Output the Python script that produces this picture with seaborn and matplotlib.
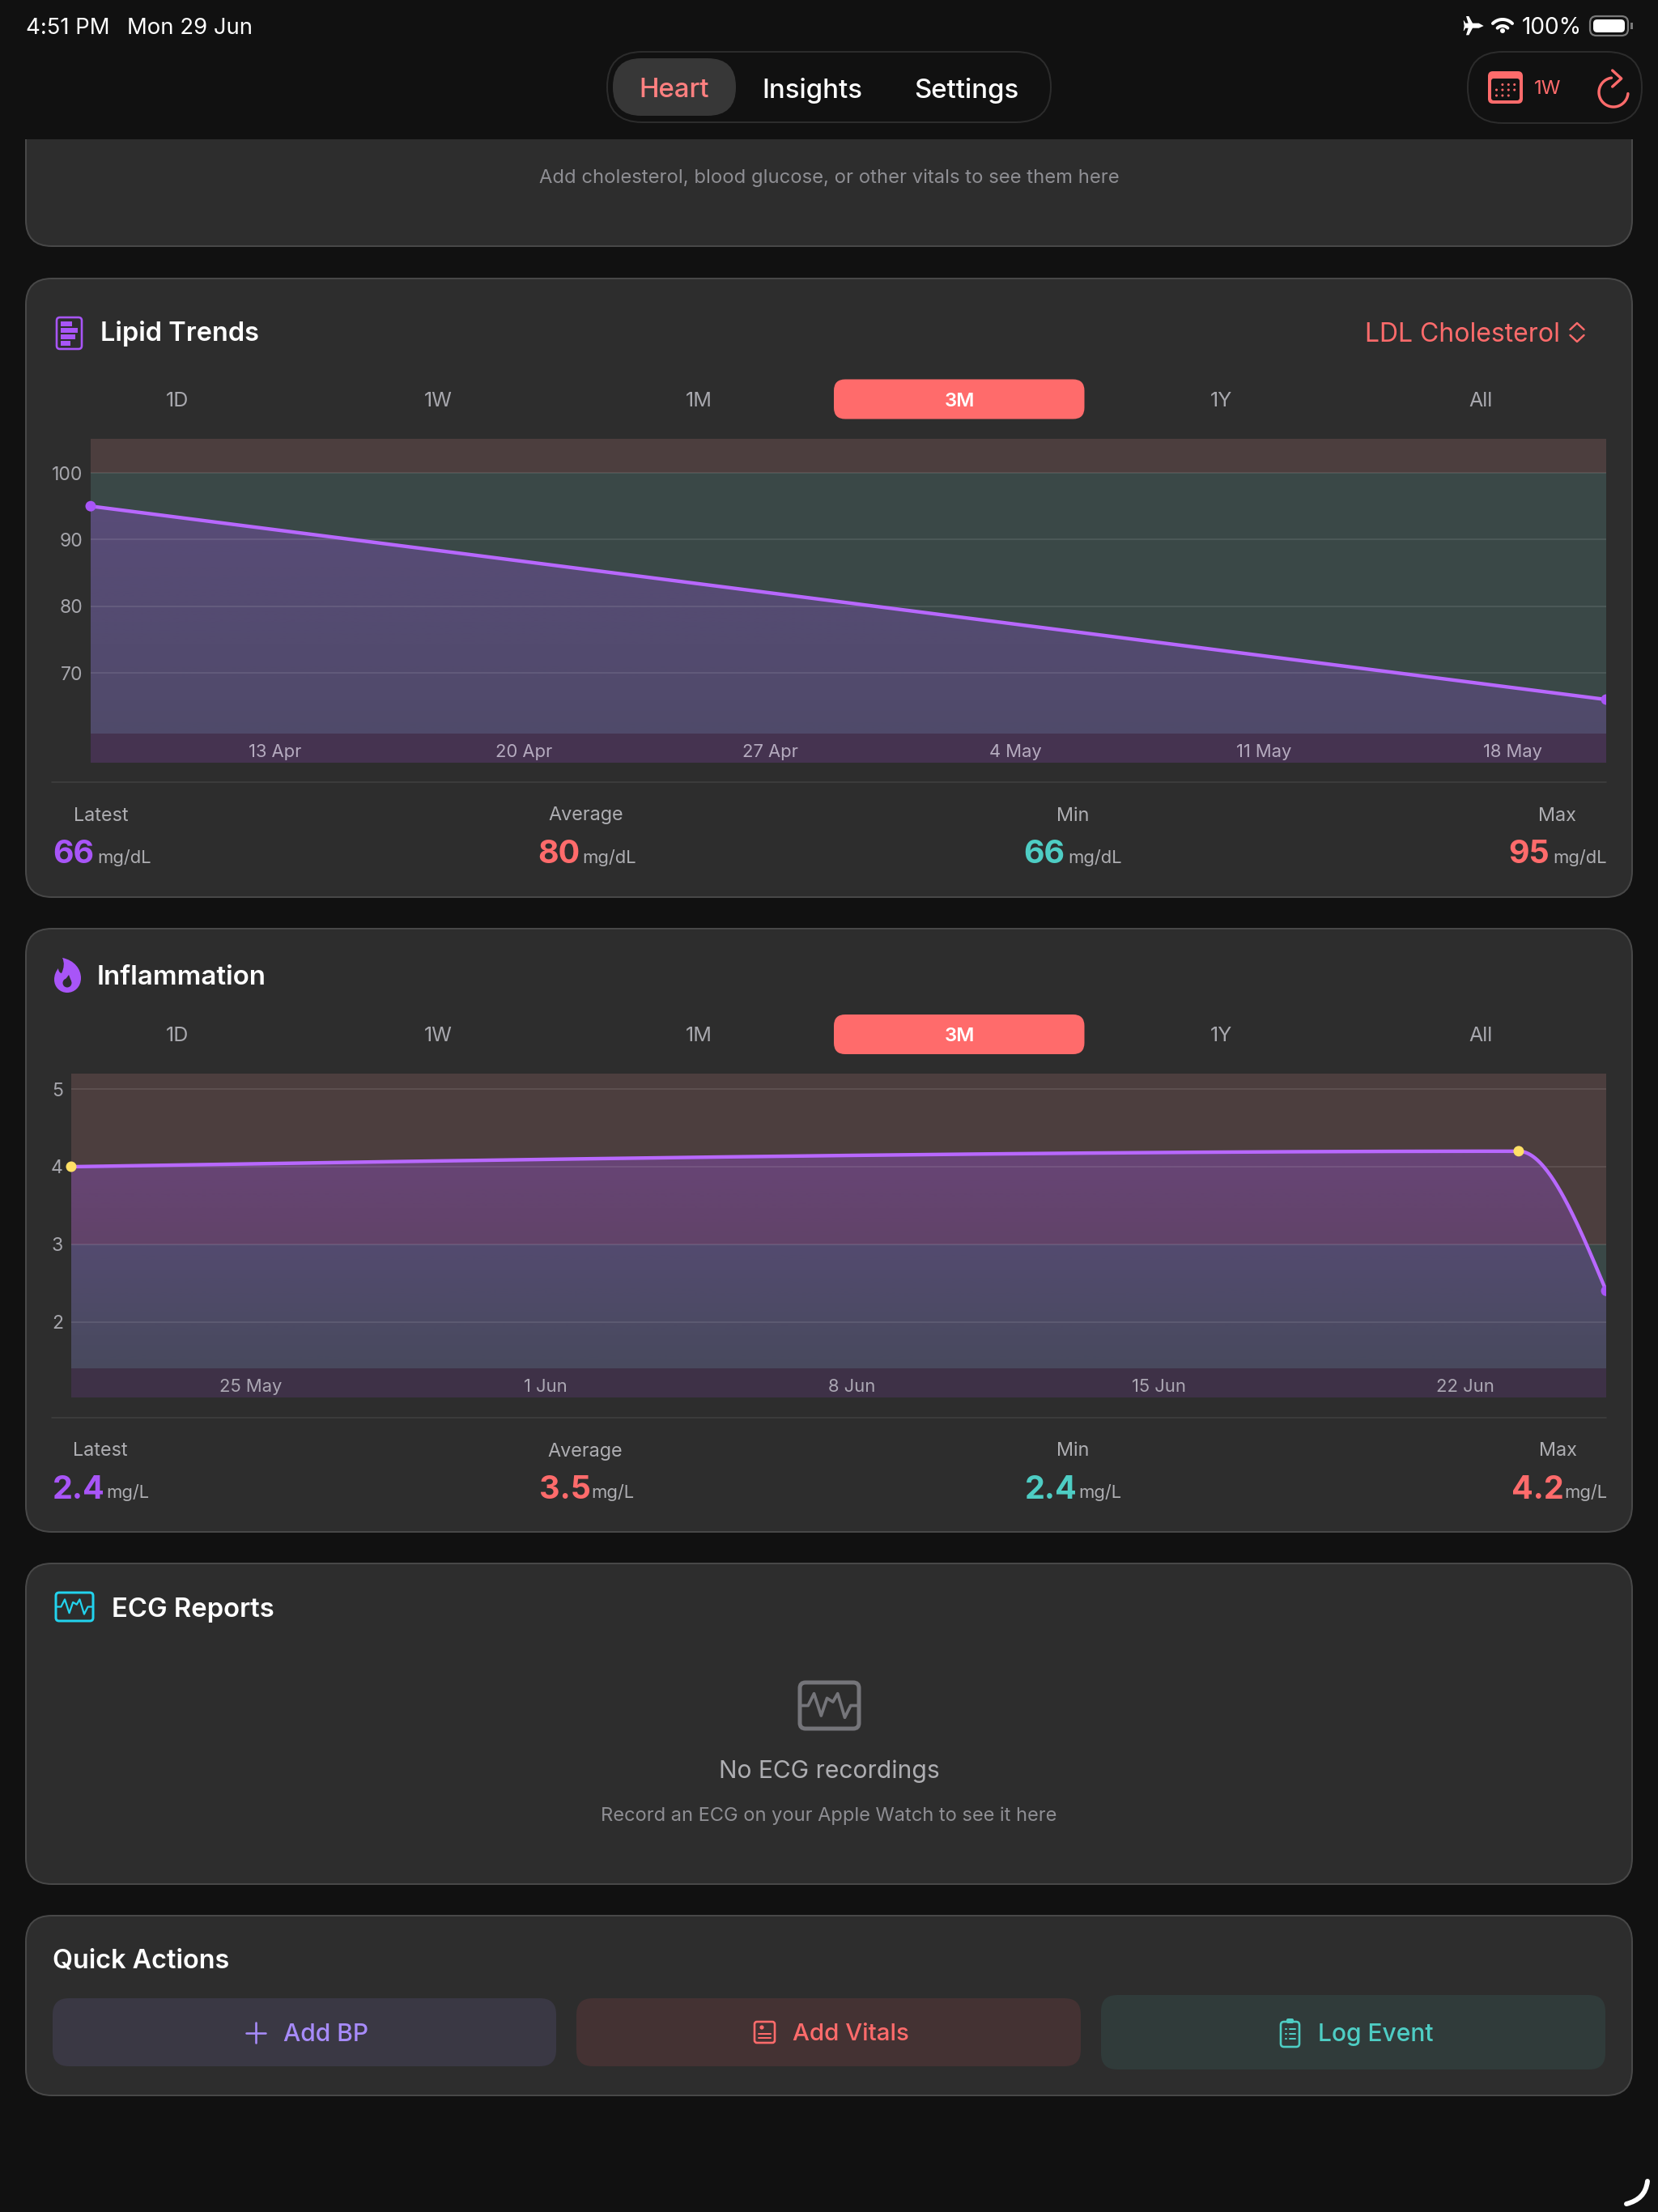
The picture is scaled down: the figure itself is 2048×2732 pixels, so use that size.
import numpy as np
import pandas as pd
import seaborn as sns
import matplotlib
matplotlib.use("Agg")
import matplotlib.pyplot as plt
import matplotlib.dates as mdates
from matplotlib.patches import FancyBboxPatch, Rectangle, Polygon, Circle, PathPatch
from matplotlib.path import Path

# ---------- data ----------
LIPID_DATES = ["2026-04-08 12:30", "2026-05-21 11:45"]
LIPID_VALUES = [95, 66]
LIPID_YTICKS = [70, 80, 90, 100]
LIPID_XTICKS = ["2026-04-13", "2026-04-20", "2026-04-27", "2026-05-04", "2026-05-11", "2026-05-18"]
LIPID_XLABELS = ["13 Apr", "20 Apr", "27 Apr", "4 May", "11 May", "18 May"]
LIPID_YLIM = (56.53, 105.1)
LIPID_BANDS = [60.9, 100]

INFL_DATES = ["2026-05-21 14:00", "2026-06-23 21:40", "2026-06-25 22:00"]
INFL_VALUES = [4.0, 4.2, 2.4]
INFL_YTICKS = [2, 3, 4, 5]
INFL_XTICKS = ["2026-05-25", "2026-06-01", "2026-06-08", "2026-06-15", "2026-06-22"]
INFL_XLABELS = ["25 May", "1 Jun", "8 Jun", "15 Jun", "22 Jun"]
INFL_YLIM = (1.03, 5.2)
INFL_BANDS = [1.40, 3]

RANGES = ["1D", "1W", "1M", "3M", "1Y", "All"]
SELECTED_RANGE = "3M"
STAT_NAMES = ["Latest", "Average", "Min", "Max"]
LIPID_STATS = ["66", "80", "66", "95"]
INFL_STATS = ["2.4", "3.5", "2.4", "4.2"]
TABS = ["Heart", "Insights", "Settings"]

# ---------- palette ----------
BG = "#111111"; CARD = "#2d2d2d"; EDGE = "#484848"
RED = "#ff6b6b"; PURPLE = "#a855f7"; LINE = "#b868ff"; TEAL = "#4ecdc4"; VIOLET = "#a78bfa"
YELLOW = "#ffe066"; CYAN = "#22d3ee"
GREY = "#aeaeb2"; DIM = "#8e8e93"; WHITE = "#ffffff"
BAND_HIGH = "#4c3e3e"; BAND_OK = "#3a4847"; BAND_LOW_1 = "#453350"; BAND_LOW_2 = "#3e3147"

W, H = 2048, 2732
sns.set_theme(style="dark", rc={"axes.facecolor": "none", "figure.facecolor": BG})
plt.rcParams["font.family"] = ["Inter", "DejaVu Sans"]
plt.rcParams["axes.unicode_minus"] = False

PX = 0.72  # one pixel, in points, at dpi 100
fig = plt.figure(figsize=(W / 100, H / 100), dpi=100, facecolor=BG)
ui = fig.add_axes([0, 0, 1, 1], zorder=0)
ui.set_xlim(0, W); ui.set_ylim(H, 0); ui.axis("off")


def txt(x, y, s, size, color=WHITE, ha="left", weight="normal", z=5):
    return ui.text(x, y, s, fontsize=size * PX, color=color, ha=ha, va="center_baseline",
                   fontweight=weight, zorder=z)


def rbox(x0, y0, x1, y1, r, fc="none", ec="none", lw=0, z=2):
    p = FancyBboxPatch((x0, y0), x1 - x0, y1 - y0, boxstyle=f"round,pad=0,rounding_size={r}",
                       fc=fc, ec=ec, lw=lw * PX, zorder=z)
    ui.add_patch(p)
    return p


def stroke(xs, ys, color, lw, z=6):
    ui.plot(xs, ys, color=color, lw=lw * PX, solid_capstyle="round", solid_joinstyle="round", zorder=z)


def ecg_icon(x0, y0, x1, y1, color, lw, r):
    rbox(x0, y0, x1, y1, r, ec=color, lw=lw, z=6)
    w, h = x1 - x0, y1 - y0
    fx = np.array([0, .14, .24, .36, .46, .56, .64, .76, .86, 1.0])
    fy = np.array([.5, .5, .24, .72, .34, .42, .24, .76, .5, .5])
    stroke(x0 + fx * w, y0 + fy * h, color, lw * 0.75)


def monotone_curve(xs, ys, per_segment=80):
    """Monotone cubic drawing path through the measured points (how the app's chart draws its line)."""
    xs = np.asarray(xs, float); ys = np.asarray(ys, float)
    d = np.diff(ys) / np.diff(xs)
    m = np.zeros_like(ys)
    for i in range(1, len(ys) - 1):
        m[i] = 0 if d[i - 1] * d[i] <= 0 else 2 * d[i - 1] * d[i] / (d[i - 1] + d[i])
    m[0] = (3 * d[0] - m[1]) / 2
    m[-1] = (3 * d[-1] - m[-2]) / 2
    out_x, out_y = [], []
    for i in range(len(d)):
        t = np.linspace(0, 1, per_segment, endpoint=i == len(d) - 1)
        dx = xs[i + 1] - xs[i]
        out_x.append(xs[i] + t * dx)
        out_y.append((2*t**3 - 3*t**2 + 1) * ys[i] + (t**3 - 2*t**2 + t) * dx * m[i]
                     + (-2*t**3 + 3*t**2) * ys[i + 1] + (t**3 - t**2) * dx * m[i + 1])
    return np.concatenate(out_x), np.concatenate(out_y)


def chart(box, dates, values, yticks, xticks, xlabels, ylim, bands, low_color, marker_colors,
          alpha_top, alpha_bottom, ytick_pad, tick_color, smooth):
    x0, y0, x1, y1 = box
    ax = fig.add_axes([x0 / W, 1 - y1 / H, (x1 - x0) / W, (y1 - y0) / H], zorder=3)
    nums = mdates.date2num(pd.to_datetime(dates))
    base, limit = bands
    ax.axhspan(ylim[0], base, color=low_color, lw=0, zorder=1)
    ax.axhspan(base, limit, color=BAND_OK, lw=0, zorder=1)
    ax.axhspan(limit, ylim[1], color=BAND_HIGH, lw=0, zorder=1)

    cx, cy = monotone_curve(nums, values) if smooth else (nums, np.asarray(values, float))
    frame = pd.DataFrame({"date": mdates.num2date(cx), "value": cy})
    frame["date"] = frame["date"].dt.tz_localize(None)

    # gradient area under the line
    poly = ax.fill_between(cx, cy, base, color="none", lw=0)
    grad = np.zeros((256, 2, 4))
    grad[..., :3] = matplotlib.colors.to_rgb(PURPLE)
    grad[..., 3] = np.linspace(alpha_top, alpha_bottom, 256)[:, None]
    top = max(values)
    im = ax.imshow(grad, extent=[nums[0], nums[-1], base, top], origin="upper", aspect="auto",
                   interpolation="bilinear", zorder=1.5)
    im.set_clip_path(poly.get_paths()[0], transform=ax.transData)

    sns.lineplot(data=frame, x="date", y="value", ax=ax, color=LINE, linewidth=4.4 * PX,
                 estimator=None, errorbar=None, sort=False, legend=False, zorder=3)
    pts = pd.DataFrame({"date": pd.to_datetime(dates), "value": values, "kind": marker_colors})
    sns.scatterplot(data=pts, x="date", y="value", hue="kind", palette={c: c for c in set(marker_colors)},
                    ax=ax, s=(13 * PX) ** 2, linewidth=0, legend=False, zorder=4)
    clip = Rectangle((x0 - 30, y0), x1 - x0 + 30, y1 - y0, transform=ui.transData)
    for coll in ax.collections:
        if coll is not poly:
            coll.set_clip_path(clip)

    ax.set_xlim(nums[0], nums[-1]); ax.set_ylim(*ylim)
    ax.set_xlabel(""); ax.set_ylabel("")
    ax.set_yticks(yticks); ax.set_yticklabels([str(t) for t in yticks])
    ax.set_xticks(mdates.date2num(pd.to_datetime(xticks))); ax.set_xticklabels(xlabels)
    ax.tick_params(axis="y", length=0, pad=ytick_pad * PX, labelsize=23 * PX, labelcolor="#a6a6ac")
    ax.tick_params(axis="x", length=0, pad=-12.5 * PX, labelsize=22 * PX, labelcolor=tick_color)
    for lab in ax.get_xticklabels():
        lab.set_va("center")
        lab.set_ha("left")
    ax.set_axisbelow(False)
    ax.grid(False, axis="x")
    ax.grid(True, axis="y", color="white", alpha=0.11, lw=1.6 * PX)
    for s in ax.spines.values():
        s.set_visible(False)
    return ax


def range_row(y):
    xs = [219, 541, 863, 1185, 1508, 1829]
    for x, r in zip(xs, RANGES):
        if r == SELECTED_RANGE:
            rbox(1030, y - 24.5, 1339.5, y + 24.5, 14, fc=RED, z=3)
            txt(x, y, r, 24, WHITE, ha="center", weight="semibold")
        else:
            txt(x, y, r, 25, "#a8a8ae", ha="center")


def stat_row(y_label, y_value, centers, value_xs, unit_xs, stats, unit):
    colors = [PURPLE, RED, TEAL, RED]
    for c, n, vx, ux, s, col in zip(centers, STAT_NAMES, value_xs, unit_xs, stats, colors):
        txt(c, y_label, n, 23.4, GREY, ha="center")
        txt(vx, y_value, s, 39.5, col, weight="bold")
        txt(ux, y_value + 5, unit, 22, GREY)


# ---------- background cards ----------
rbox(32, 90, 2016, 304, 32, fc=CARD, ec=EDGE, lw=2, z=1)
ui.add_patch(Rectangle((0, 0), W, 172, fc=BG, ec="none", zorder=1.5))
for top, bottom in [(344, 1108), (1147, 1892), (1931, 2327), (2366, 2588)]:
    rbox(32, top, 2016, bottom, 32, fc=CARD, ec=EDGE, lw=2, z=1)

# ---------- status bar ----------
txt(32, 32, "4:51 PM", 27.5)
txt(157, 32, "Mon 29 Jun", 27.5)
plane = np.array([(158, 96), (140, 86), (117, 86), (103, 60), (93, 60), (101, 86), (91, 86), (85, 76),
                  (83, 76), (86, 96), (83, 114), (85, 114), (91, 104), (101, 104), (93, 130), (103, 130),
                  (117, 104), (140, 104)], float)
plane[:, 0] = 1780 + plane[:, 0] / 3
plane[:, 1] = plane[:, 1] / 3
ui.add_patch(Polygon(plane, fc=WHITE, ec="none", zorder=6))
for r, lw in [(9, 4), (17, 4)]:
    th = np.radians(np.linspace(45, 135, 30))
    stroke(1856 + r * np.cos(th), 41 - r * np.sin(th), WHITE, lw)
ui.add_patch(Circle((1856, 38), 3, fc=WHITE, ec="none", zorder=6))
txt(1880, 32, "100%", 28)
rbox(1964, 20, 2011, 44, 8, ec="#7a7a7a", lw=2.2, z=6)
rbox(1968, 24, 2007, 40, 5, fc=WHITE, z=6)
ui.add_patch(Rectangle((2014, 28), 2.5, 8, fc="#7a7a7a", ec="none", zorder=6))

# ---------- nav ----------
rbox(750, 64, 1298, 151, 43, fc=BG, ec="#2c2c2c", lw=2, z=3)
rbox(757, 72, 909, 143, 35, fc="#373737", z=4)
for x, t, col in zip([833, 1003, 1194], TABS, ["#ff8080", WHITE, WHITE]):
    txt(x, 108, t, 33, col, ha="center", weight="medium")

rbox(1813, 64, 2028, 152, 43, fc=BG, ec="#2c2c2c", lw=2, z=3)
rbox(1838, 88, 1881, 128, 6, fc=RED, z=5)
rbox(1842, 97, 1877, 124, 3, fc=BG, z=6)
for row, y in enumerate([104.5, 111, 118]):
    for col in range(4):
        if (row == 0 and col == 0) or (row == 2 and col == 3):
            continue
        ui.add_patch(Circle((1848.5 + col * 7.4, y), 1.5, fc=RED, ec="none", zorder=7))
txt(1912, 108, "1W", 24, RED, ha="center")
th = np.radians(np.linspace(-5, -262, 70))
stroke(1993 + 18 * np.cos(th), 114 - 18 * np.sin(th), RED, 3.4)
stroke([1991.7, 2002.7, 1991.7], [87, 97, 107], RED, 3.4)

# ---------- first card remainder ----------
txt(1024, 217, "Add cholesterol, blood glucose, or other vitals to see them here", 23.8, DIM, ha="center")

# ---------- lipid card ----------
rbox(70, 392, 101, 431, 4, ec=PURPLE, lw=2.6, z=6)
for y, x1 in zip([397, 405, 413, 421], [89, 96, 93, 87]):
    ui.add_patch(Rectangle((75, y), x1 - 75, 6, fc=PURPLE, ec="none", zorder=6))
txt(124, 409, "Lipid Trends", 32.5, WHITE, weight="semibold")
txt(1686, 410, "LDL Cholesterol", 32, RED)
stroke([1939.5, 1948, 1956.5], [407, 399, 407], RED, 2.4)
stroke([1939.5, 1948, 1956.5], [414, 422, 414], RED, 2.4)
range_row(493)

chart((112, 542, 1984, 942), LIPID_DATES, LIPID_VALUES, LIPID_YTICKS, LIPID_XTICKS, LIPID_XLABELS,
      LIPID_YLIM, LIPID_BANDS, BAND_LOW_1, [PURPLE, PURPLE], 0.28, 0.20, 9.5, "#b5abbf", smooth=False)

ui.plot([64, 1984], [966, 966], color="#3f3f3f", lw=1.6 * PX, zorder=3)
stat_row(1005, 1052, [125, 724, 1325, 1923], [65, 664, 1264, 1863], [120, 719, 1319, 1918], LIPID_STATS, "mg/dL")

# ---------- inflammation card ----------
flame = [(Path.MOVETO, (77, 1183)), (Path.CURVE4, (92, 1186)), (Path.CURVE4, (100, 1197)), (Path.CURVE4, (100, 1208)),
         (Path.CURVE4, (100, 1219)), (Path.CURVE4, (92, 1226)), (Path.CURVE4, (83, 1226)),
         (Path.CURVE4, (74, 1226)), (Path.CURVE4, (67, 1219)), (Path.CURVE4, (67, 1210)),
         (Path.CURVE4, (67, 1204)), (Path.CURVE4, (69, 1200)), (Path.CURVE4, (72, 1196)),
         (Path.CURVE4, (72, 1199)), (Path.CURVE4, (74, 1202)), (Path.CURVE4, (76, 1202)),
         (Path.CURVE4, (79, 1196)), (Path.CURVE4, (80, 1189)), (Path.CURVE4, (77, 1183)), (Path.CLOSEPOLY, (77, 1183))]
codes, verts = zip(*flame)
ui.add_patch(PathPatch(Path(verts, codes), fc=PURPLE, ec="none", zorder=6))
ui.add_patch(Circle((83, 1214), 5.5, fc=CARD, ec="none", zorder=7))
ui.add_patch(Polygon([(85, 1204), (79, 1212), (88, 1212)], fc=CARD, ec="none", zorder=7))
txt(119.5, 1204, "Inflammation", 33, WHITE, weight="semibold")
range_row(1277.5)

chart((88, 1326, 1984, 1725.6), INFL_DATES, INFL_VALUES, INFL_YTICKS, INFL_XTICKS, INFL_XLABELS,
      INFL_YLIM, INFL_BANDS, BAND_LOW_2, [YELLOW, YELLOW, PURPLE], 0.31, 0.13, 10, "#aba7b3", smooth=True)

ui.plot([64, 1984], [1750.5, 1750.5], color="#3f3f3f", lw=1.6 * PX, zorder=3)
stat_row(1790, 1836.5, [124, 723, 1325, 1924], [64.5, 666, 1266, 1867], [131, 730, 1332, 1932], INFL_STATS, "mg/L")

# ---------- ECG card ----------
ecg_icon(69, 1967, 115, 2002, CYAN, 3, 4)
txt(138, 1985, "ECG Reports", 32.8, WHITE, weight="semibold")
ecg_icon(988, 2078, 1061, 2135, "#75757a", 5, 7)
txt(1024, 2185, "No ECG recordings", 30, GREY, ha="center")
txt(1024, 2240, "Record an ECG on your Apple Watch to see it here", 23.6, DIM, ha="center")

# ---------- quick actions ----------
txt(65, 2418.5, "Quick Actions", 32.4, WHITE, weight="semibold")
rbox(65, 2468, 687, 2552, 20, fc="#3a3844", z=3)
rbox(712, 2468, 1335, 2552, 20, fc="#443233", z=3)
rbox(1360, 2464, 1983, 2556, 20, fc="#303b3a", z=3)
stroke([316, 316], [2498, 2523], VIOLET, 2.6)
stroke([304, 328], [2510.5, 2510.5], VIOLET, 2.6)
txt(350, 2510, "Add BP", 30, VIOLET, weight="medium")
rbox(932, 2497, 957, 2523, 3, ec=RED, lw=2.6, z=6)
ui.add_patch(Circle((941, 2504), 2.6, fc=RED, ec="none", zorder=7))
stroke([937, 952], [2512, 2512], RED, 2)
stroke([937, 952], [2517, 2517], RED, 2)
txt(979, 2510, "Add Vitals", 29.5, RED, weight="medium")
rbox(1582, 2497, 1605, 2528, 4, ec=TEAL, lw=2.6, z=6)
rbox(1589, 2493, 1598, 2499, 2, fc=TEAL, z=7)
for y in [2506, 2512, 2518]:
    stroke([1588, 1589], [y, y], TEAL, 2)
    stroke([1593, 1600], [y, y], TEAL, 2)
txt(1628, 2510, "Log Event", 30, TEAL, weight="medium")

# ---------- corner handle ----------
handle = Path([(2035, 2694), (2033, 2710), (2024, 2718), (2009, 2722)],
              [Path.MOVETO, Path.CURVE4, Path.CURVE4, Path.CURVE4])
ui.add_patch(PathPatch(handle, fc="none", ec=WHITE, lw=6 * PX, capstyle="round", zorder=8))

fig.savefig("out.png", dpi=100, facecolor=BG)
